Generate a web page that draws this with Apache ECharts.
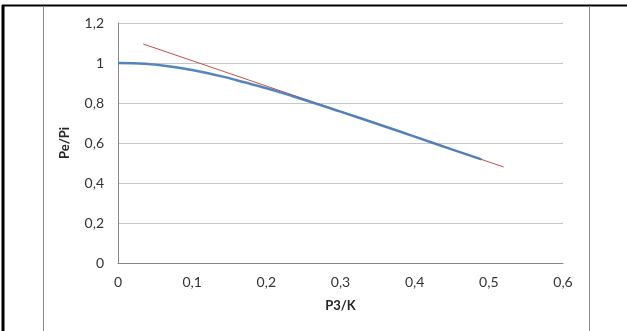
<!DOCTYPE html>
<html><head><meta charset="utf-8">
<script src="https://cdn.jsdelivr.net/npm/echarts@6/dist/echarts.min.js"></script>
<style>html,body{margin:0;padding:0;background:#fff}#c{width:627px;height:331px}</style>
</head><body><div id="c"></div>
<script>
var curveX = [0, 0.02, 0.04, 0.06, 0.08, 0.1, 0.12, 0.14, 0.16, 0.18, 0.2, 0.22, 0.24, 0.26, 0.28, 0.3, 0.35, 0.4, 0.45, 0.49];
var curveY = [1.0, 0.999, 0.995, 0.988, 0.978, 0.965, 0.95, 0.933, 0.914, 0.894, 0.874, 0.852, 0.829, 0.805, 0.781, 0.757, 0.695, 0.632, 0.568, 0.518];
var lineX = [0.034, 0.52];
var lineY = [1.095, 0.48];
var xTicks = [0, 0.1, 0.2, 0.3, 0.4, 0.5, 0.6];
var yTicks = [0, 0.2, 0.4, 0.6, 0.8, 1, 1.2];
var xName = 'P3/K';
var yName = 'Pe/Pi';

function fmt(v){ return String(parseFloat(Number(v).toFixed(3))).replace('.', ','); }
var chart = echarts.init(document.getElementById('c'));
var font = 'Lato, "Open Sans", sans-serif';
chart.setOption({
  animation: false,
  backgroundColor: '#fff',
  grid: {left: 118, right: 64, top: 23, bottom: 68},
  xAxis: {
    type: 'value', min: xTicks[0], max: xTicks[xTicks.length-1], interval: 0.1,
    name: xName, nameLocation: 'middle', nameGap: 36,
    nameTextStyle: {fontFamily: font, fontWeight: 'bold', fontSize: 13, color: '#262626'},
    axisLine: {show: true, lineStyle: {color: '#868686', width: 1}},
    axisTick: {show: false},
    splitLine: {show: false},
    axisLabel: {formatter: fmt, fontFamily: font, fontSize: 14, color: '#333', margin: 12}
  },
  yAxis: {
    type: 'value', min: yTicks[0], max: yTicks[yTicks.length-1], interval: 0.2,
    name: yName, nameLocation: 'middle', nameGap: 47, nameRotate: 90,
    nameTextStyle: {fontFamily: font, fontWeight: 'bold', fontSize: 13, color: '#262626'},
    axisLine: {show: true, lineStyle: {color: '#868686', width: 1}},
    axisTick: {show: false},
    splitLine: {show: true, lineStyle: {color: '#c6c6c6', width: 1}},
    axisLabel: {formatter: fmt, fontFamily: font, fontSize: 14, color: '#333', margin: 14}
  },
  graphic: [
    {type: 'line', shape: {x1: 2, y1: 5.5, x2: 627, y2: 5.5}, style: {stroke: '#000', lineWidth: 2}, silent: true},
    {type: 'line', shape: {x1: 3, y1: 5, x2: 3, y2: 331}, style: {stroke: '#000', lineWidth: 3}, silent: true},
    {type: 'line', shape: {x1: 43.5, y1: 6, x2: 43.5, y2: 331}, style: {stroke: '#8c8c8c', lineWidth: 1}, silent: true},
    {type: 'line', shape: {x1: 589.5, y1: 6, x2: 589.5, y2: 331}, style: {stroke: '#8c8c8c', lineWidth: 1}, silent: true}
  ],
  series: [
    {type: 'line', data: lineX.map(function(x,i){return [x, lineY[i]];}), showSymbol: false, symbol: 'none',
     lineStyle: {color: '#c0504d', width: 1}, z: 2},
    {type: 'line', data: curveX.map(function(x,i){return [x, curveY[i]];}), smooth: true, showSymbol: false, symbol: 'none',
     lineStyle: {color: '#4a7ebb', width: 2.5, opacity: 0.95}, z: 3}
  ]
});
</script></body></html>
